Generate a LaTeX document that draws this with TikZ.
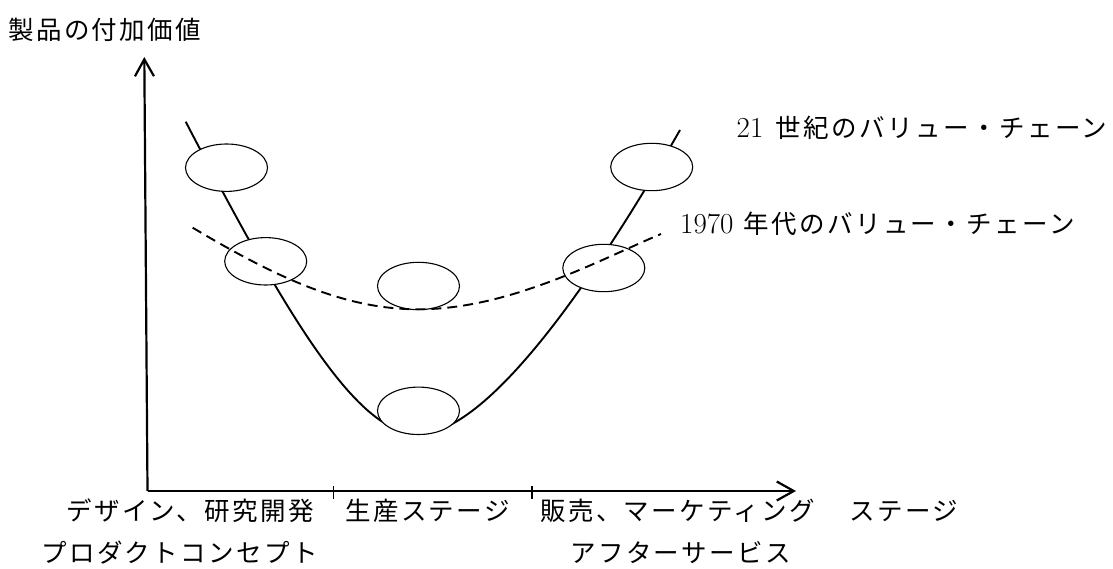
\documentclass[tikz,border=0pt]{standalone}
\usepackage{fontspec}
\usetikzlibrary{arrows.meta,shapes.geometric}
\newfontfamily\jp{Noto Sans CJK JP}[LetterSpace=9.5]
\newcommand{\jpsize}{\fontsize{25.5}{30}\selectfont}
\newcommand{\digsize}{\fontsize{29}{34}\selectfont}
\tikzset{
  axisline/.style={line width=2.2pt, -{Straight Barb[length=17pt,width=19pt]}},
  tickline/.style={line width=1.6pt},
  curve21/.style={line width=1.9pt},
  curve70/.style={line width=1.9pt, dash pattern=on 10pt off 6pt},
  blob/.style={ellipse, draw, fill=white, line width=1.1pt, minimum width=82pt, minimum height=47.4pt, inner sep=0pt},
  lbl/.style={anchor=base west, inner sep=0pt, font=\jpsize\jp},
}
\begin{document}
\begin{tikzpicture}[x=1pt,y=-1pt]
\path[use as bounding box] (0,0) rectangle (1113,569);
% axes
\coordinate (O) at (147.5,491);
\coordinate (Ytop) at (144.3,57);
\coordinate (Xend) at (796,491);
\coordinate (T1) at (333.5,491);
\coordinate (T2) at (531.7,491);
\draw[axisline] (O) -- (Ytop);
\draw[axisline] (O) -- (Xend);
\draw[tickline] ([yshift=-8pt]T1) -- ([yshift=5pt]T1);
\draw[tickline] ([yshift=-8pt]T2) -- ([yshift=5pt]T2);
% 21st century curve
\coordinate (A) at (185.7,121.7);
\coordinate (B) at (418,434);
\coordinate (C) at (680,130);
\draw[curve21] (A) .. controls (289.7,321.7) and (358,434) .. (B)
               .. controls (488,434) and (594.3,280) .. (C);
% ellipses
\node[blob] (e1) at (226.5,167.7) {};
\node[blob] (e2) at (265.7,261.3) {};
\node[blob] (e3) at (418.5,286) {};
\node[blob] (e4) at (418.5,410.8) {};
\node[blob] (e5) at (651.7,167) {};
\node[blob] (e6) at (603.8,268) {};
% 1970s curve
\coordinate (D) at (192.7,227.7);
\coordinate (M) at (418.3,309.3);
\coordinate (F) at (661,234);
\draw[curve70] (D) .. controls (282.7,281.5) and (348.3,309.3) .. (M)
               .. controls (510,309.3) and (600,259.5) .. (F);
% labels
\node[lbl] (ttl) at (8,40) {製品の付加価値};
\node[lbl] (l21) at (736.5,138) {{\digsize\rmfamily 21}\hspace{12.5pt}世紀のバリュー・チェーン};
\node[lbl] (l70) at (680,233.5) {{\digsize\rmfamily 1970}\hspace{10pt}年代のバリュー・チェーン};
\node[lbl] (s1) at (66,520) {デザイン、研究開発};
\node[lbl] (s2) at (345,520) {生産ステージ};
\node[lbl] (s3) at (540,520) {販売、マーケティング};
\node[lbl] (s4) at (849,520) {ステージ};
\node[lbl] (s5) at (41,562) {プロダクトコンセプト};
\node[lbl] (s6) at (570,562) {アフターサービス};
\end{tikzpicture}
\end{document}
